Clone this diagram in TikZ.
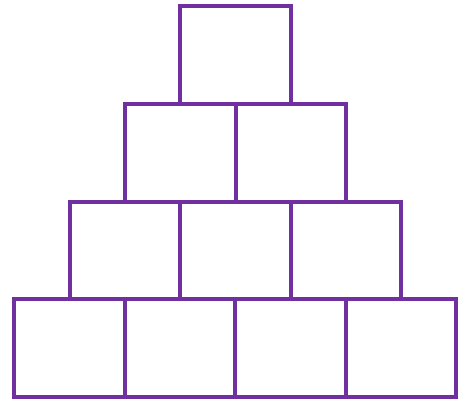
\documentclass[tikz,border=0pt]{standalone}
\definecolor{boxpurple}{HTML}{7030A0}
\begin{document}
\begin{tikzpicture}[x=1pt,y=-1pt,
  brick/.style={draw=boxpurple,line width=4pt,minimum width=110.45pt,minimum height=97.9pt,inner sep=0pt,outer sep=0pt}]
\useasboundingbox (0,0) rectangle (469,402);
% row 1
\node[brick] (r1a) at (235.6,54.7) {};
% row 2
\foreach \i [count=\k] in {0,1} {
  \node[brick] (r2\k) at ({180.4+\i*110.45},152.6) {};
}
% row 3
\foreach \i [count=\k] in {0,1,2} {
  \node[brick] (r3\k) at ({125.0+\i*110.45},250.5) {};
}
% row 4
\foreach \i [count=\k] in {0,1,2,3} {
  \node[brick] (r4\k) at ({69.7+\i*110.45},348.4) {};
}
\end{tikzpicture}
\end{document}
